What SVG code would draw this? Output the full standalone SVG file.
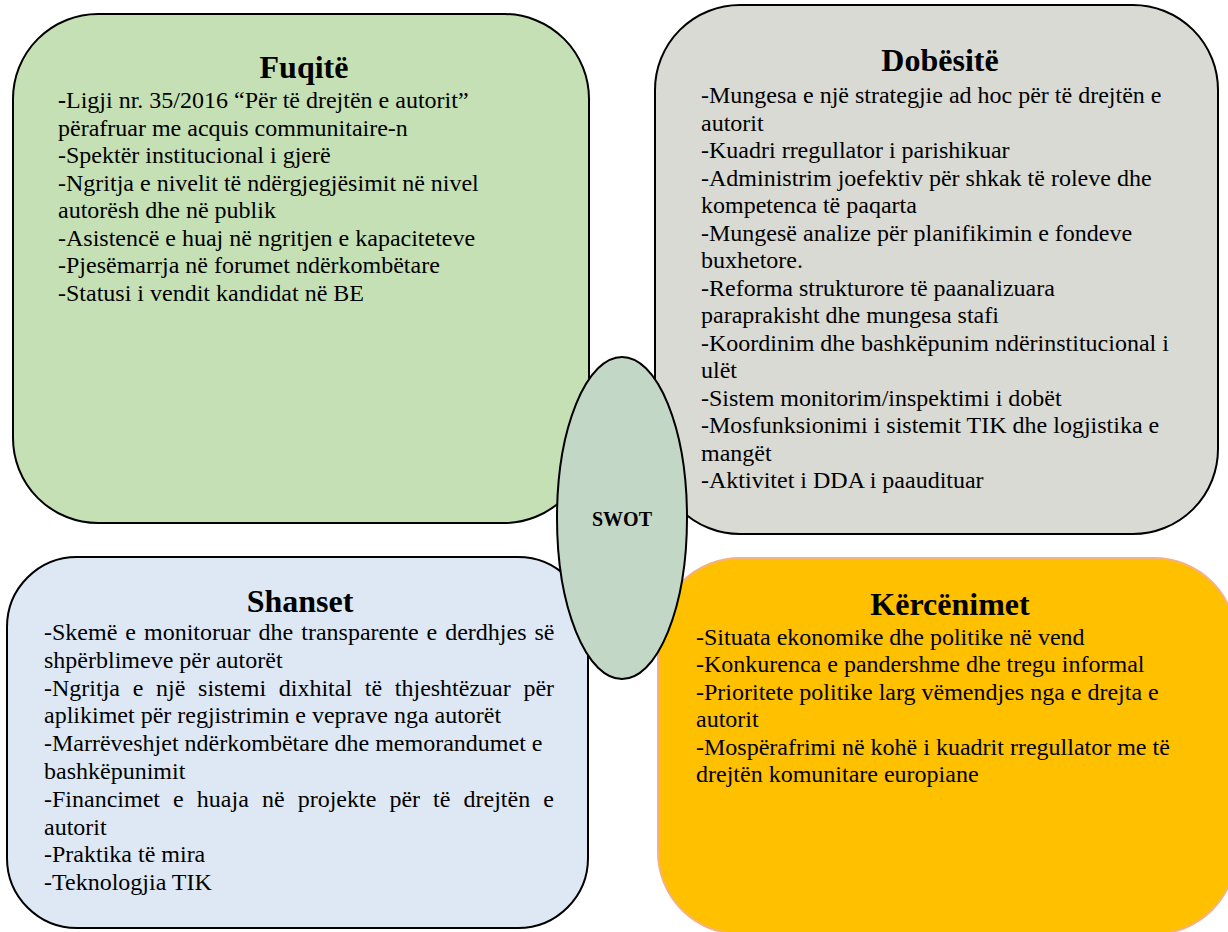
<svg xmlns="http://www.w3.org/2000/svg" width="1228" height="932" viewBox="0 0 1228 932">
<defs>
<style>
.box{stroke:#000;stroke-width:2}
.title{font-family:"Liberation Serif","Times New Roman",serif;font-weight:bold;font-size:32px;text-anchor:middle;fill:#000}
.body{font-family:"Liberation Serif","Times New Roman",serif;font-size:24px;fill:#000}
.swot{font-family:"Liberation Serif","Times New Roman",serif;font-weight:bold;font-size:20px;text-anchor:middle;fill:#000}
</style>
</defs>
<rect width="1228" height="932" fill="#fff"/>
<g id="connectors"></g>
<g id="fuqite">
<rect class="box" x="13" y="14" width="576" height="509" rx="85" ry="85" fill="#c5e0b4"/>
<text class="title" x="304" y="78">Fuqitë</text>
<text class="body">
<tspan x="58" y="108"><tspan font-weight="bold">-</tspan>Ligji nr. 35/2016 “Për të drejtën e autorit”</tspan>
<tspan x="58" y="135.5">përafruar me acquis communitaire-n</tspan>
<tspan x="58" y="163">-Spektër institucional i gjerë</tspan>
<tspan x="58" y="190.5">-Ngritja e nivelit të ndërgjegjësimit në nivel</tspan>
<tspan x="58" y="218">autorësh dhe në publik</tspan>
<tspan x="58" y="245.5">-Asistencë e huaj në ngritjen e kapaciteteve</tspan>
<tspan x="58" y="273">-Pjesëmarrja në forumet ndërkombëtare</tspan>
<tspan x="58" y="300.5">-Statusi i vendit kandidat në BE</tspan>
</text>
</g>
<g id="dobesite">
<rect class="box" x="655" y="5" width="563" height="529" rx="85" ry="85" fill="#d9dad3"/>
<text class="title" x="940" y="71">Dobësitë</text>
<text class="body">
<tspan x="701" y="103.3">-Mungesa e një strategjie ad hoc për të drejtën e</tspan>
<tspan x="701" y="130.8">autorit</tspan>
<tspan x="701" y="158.3">-Kuadri rregullator i parishikuar</tspan>
<tspan x="701" y="185.8">-Administrim joefektiv për shkak të roleve dhe</tspan>
<tspan x="701" y="213.3">kompetenca të paqarta</tspan>
<tspan x="701" y="240.8">-Mungesë analize për planifikimin e fondeve</tspan>
<tspan x="701" y="268.3">buxhetore.</tspan>
<tspan x="701" y="295.8">-Reforma strukturore të paanalizuara</tspan>
<tspan x="701" y="323.3">paraprakisht dhe mungesa stafi</tspan>
<tspan x="701" y="350.8">-Koordinim dhe bashkëpunim ndërinstitucional i</tspan>
<tspan x="701" y="378.3">ulët</tspan>
<tspan x="701" y="405.8">-Sistem monitorim/inspektimi i dobët</tspan>
<tspan x="701" y="433.3">-Mosfunksionimi i sistemit TIK dhe logjistika e</tspan>
<tspan x="701" y="460.8">mangët</tspan>
<tspan x="701" y="488.3">-Aktivitet i DDA i paaudituar</tspan>
</text>
</g>
<g id="shanset">
<rect class="box" x="7" y="557" width="581" height="371" rx="70" ry="70" fill="#dde8f4"/>
<text class="title" x="300" y="612">Shanset</text>
<text class="body">
<tspan x="44" y="640" word-spacing="2">-Skemë e monitoruar dhe transparente e derdhjes së</tspan>
<tspan x="44" y="667.8">shpërblimeve për autorët</tspan>
<tspan x="44" y="695.6" word-spacing="6.7">-Ngritja e një sistemi dixhital të thjeshtëzuar për</tspan>
<tspan x="44" y="723.4">aplikimet për regjistrimin e veprave nga autorët</tspan>
<tspan x="44" y="751.2">-Marrëveshjet ndërkombëtare dhe memorandumet e</tspan>
<tspan x="44" y="779">bashkëpunimit</tspan>
<tspan x="44" y="806.8" word-spacing="7.1">-Financimet e huaja në projekte për të drejtën e</tspan>
<tspan x="44" y="834.6">autorit</tspan>
<tspan x="44" y="862.4">-Praktika të mira</tspan>
<tspan x="44" y="890.2">-Teknologjia TIK</tspan>
</text>
</g>
<g id="kercenimet">
<rect x="658" y="558" width="578" height="376" rx="82" ry="82" fill="#ffc000" stroke="#f4b183" stroke-width="2"/>
<text class="title" x="950" y="615">Kërcënimet</text>
<text class="body">
<tspan x="696" y="645">-Situata ekonomike dhe politike në vend</tspan>
<tspan x="696" y="672.4">-Konkurenca e pandershme dhe tregu informal</tspan>
<tspan x="696" y="699.8">-Prioritete politike larg vëmendjes nga e drejta e</tspan>
<tspan x="696" y="727.2">autorit</tspan>
<tspan x="696" y="754.6">-Mospërafrimi në kohë i kuadrit rregullator me të</tspan>
<tspan x="696" y="782">drejtën komunitare europiane</tspan>
</text>
</g>
<g id="swot">
<ellipse class="box" cx="622" cy="518" rx="65" ry="161" fill="#c3d7c7"/>
<text class="swot" x="622" y="526">SWOT</text>
</g>
</svg>
